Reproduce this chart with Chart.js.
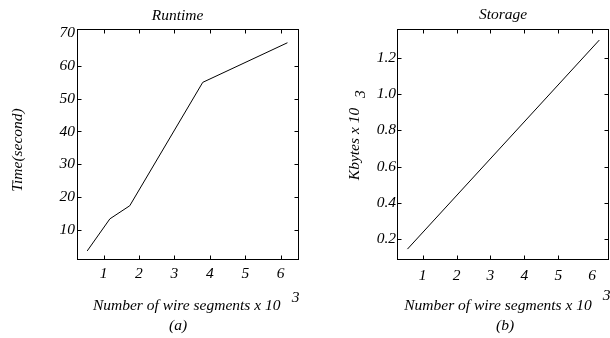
<!DOCTYPE html>
<html><head><meta charset="utf-8">
<script src="https://cdn.jsdelivr.net/npm/chart.js@4.4.1/dist/chart.umd.min.js"></script>
<style>
html,body{margin:0;padding:0;background:#fff;width:610px;height:338px;overflow:hidden}
.c{position:absolute;top:0;width:305px;height:338px}
</style></head><body>
<div class="c" style="left:0"><canvas id="a" width="305" height="338"></canvas></div>
<div class="c" style="left:305px"><canvas id="b" width="305" height="338"></canvas></div>
<script>
// ---- data ----
const runtimeSegments = [0.54, 1.18, 1.74, 3.80, 6.19];
const runtimeSeconds  = [3.5, 13.3, 17.3, 55.0, 67.1];
const storageSegments = [0.55, 6.21];
const storageKbytes   = [0.146, 1.297];
const segmentTicks = [1, 2, 3, 4, 5, 6];
const timeTicks    = [10, 20, 30, 40, 50, 60, 70];
const storageTicks = [0.2, 0.4, 0.6, 0.8, 1.0, 1.2];

const serif = "'Liberation Serif', 'Times New Roman', serif";

const framePlugin = {
  id: 'frame',
  afterDraw(chart, args, o) {
    const {ctx, chartArea: a, scales: {x, y}} = chart;
    ctx.save();
    ctx.strokeStyle = '#000'; ctx.lineWidth = 1;
    const L = Math.round(a.left) + 0.5, R = Math.round(a.right) - 0.5;
    const T = Math.round(a.top) + 0.5, B = Math.round(a.bottom) - 0.5;
    ctx.strokeRect(L, T, R - L, B - T);
    ctx.beginPath();
    x.ticks.forEach(t => {
      const p = Math.round(x.getPixelForValue(t.value)) + 0.5;
      if (!o.skipBottom.includes(t.value)) { ctx.moveTo(p, B); ctx.lineTo(p, B - o.len); }
      if (!o.skipTop.includes(t.value)) { ctx.moveTo(p, T); ctx.lineTo(p, T + o.len); }
    });
    y.ticks.forEach(t => {
      const p = Math.round(y.getPixelForValue(t.value)) + 0.5;
      if (!o.skipY.includes(t.value)) {
        ctx.moveTo(L, p); ctx.lineTo(L + o.len, p);
        ctx.moveTo(R, p); ctx.lineTo(R - o.len, p);
      }
    });
    ctx.stroke();
    ctx.fillStyle = '#000';
    o.texts.forEach(tx => {
      ctx.save();
      ctx.font = 'italic ' + tx.size + 'px ' + serif;
      ctx.textAlign = 'center';
      ctx.textBaseline = 'alphabetic';
      ctx.translate(tx.x, tx.y);
      if (tx.rot) ctx.rotate(-Math.PI / 2);
      ctx.fillText(tx.text, 0, 0);
      ctx.restore();
    });
    ctx.restore();
  }
};

function makeChart(id, p) {
  const pts = p.xs.map((v, i) => ({x: v, y: p.ys[i]}));
  return new Chart(document.getElementById(id), {
    type: 'line',
    data: { datasets: [{ data: pts, borderColor: '#000', borderWidth: 1, pointRadius: 0, tension: 0, fill: false }] },
    options: {
      responsive: false, animation: false, devicePixelRatio: 1,
      layout: { padding: { top: p.area.top, right: 305 - p.area.right, left: 0, bottom: 0 } },
      plugins: { legend: {display: false}, title: {display: false}, tooltip: {enabled: false},
        frame: { len: 4, skipTop: [], skipBottom: p.skipBottom, skipY: p.skipY, texts: p.texts } },
      scales: {
        x: {
          type: 'linear', min: p.xmin, max: p.xmax,
          afterBuildTicks: s => { s.ticks = segmentTicks.map(v => ({value: v})); },
          afterFit: s => { s.height = 338 - p.area.bottom; },
          grid: {display: false, drawTicks: false}, border: {display: false},
          ticks: { color: '#000', padding: p.xpad, maxRotation: 0, autoSkip: false,
            font: {family: serif, style: 'italic', size: 15.5}, callback: v => String(v) }
        },
        y: {
          type: 'linear', min: p.ymin, max: p.ymax,
          afterBuildTicks: s => { s.ticks = p.yticks.map(v => ({value: v})); },
          afterFit: s => { s.width = p.area.left; },
          grid: {display: false, drawTicks: false}, border: {display: false},
          ticks: { color: '#000', padding: p.ypad, autoSkip: false,
            font: {family: serif, style: 'italic', size: 15.5}, callback: p.fmt }
        }
      }
    },
    plugins: [framePlugin]
  });
}

makeChart('a', {
  xs: runtimeSegments, ys: runtimeSeconds, yticks: timeTicks,
  area: {left: 77, right: 299, top: 29, bottom: 260},
  xmin: 0.252, xmax: 6.516, ymin: 0.73, ymax: 71.3,
  xpad: 5, ypad: 2, fmt: v => String(v),
  skipBottom: [], skipY: [70],
  texts: [
    {text: 'Runtime', x: 177.5, y: 20, size: 15.5},
    {text: 'Time(second)', x: 21.5, y: 150, size: 15.5, rot: true},
    {text: 'Number of wire segments x 10', x: 186.7, y: 310, size: 15.5},
    {text: '3', x: 295.5, y: 302, size: 15.5},
    {text: '(a)', x: 178, y: 330, size: 15.5}
  ]
});

makeChart('b', {
  xs: storageSegments, ys: storageKbytes, yticks: storageTicks,
  area: {left: 92, right: 304, top: 29, bottom: 260},
  xmin: 0.242, xmax: 6.496, ymin: 0.086, ymax: 1.358,
  xpad: 7, ypad: 1, fmt: v => v.toFixed(1),
  skipBottom: [6], skipY: [],
  texts: [
    {text: 'Storage', x: 198, y: 19, size: 15.5},
    {text: 'Kbytes x 10', x: 53.5, y: 144, size: 15.5, rot: true},
    {text: '3', x: 60, y: 94, size: 15.5, rot: true},
    {text: 'Number of wire segments x 10', x: 193, y: 310, size: 15.5},
    {text: '3', x: 301.7, y: 300, size: 15.5},
    {text: '(b)', x: 200, y: 330, size: 15.5}
  ]
});
</script>
</body></html>
